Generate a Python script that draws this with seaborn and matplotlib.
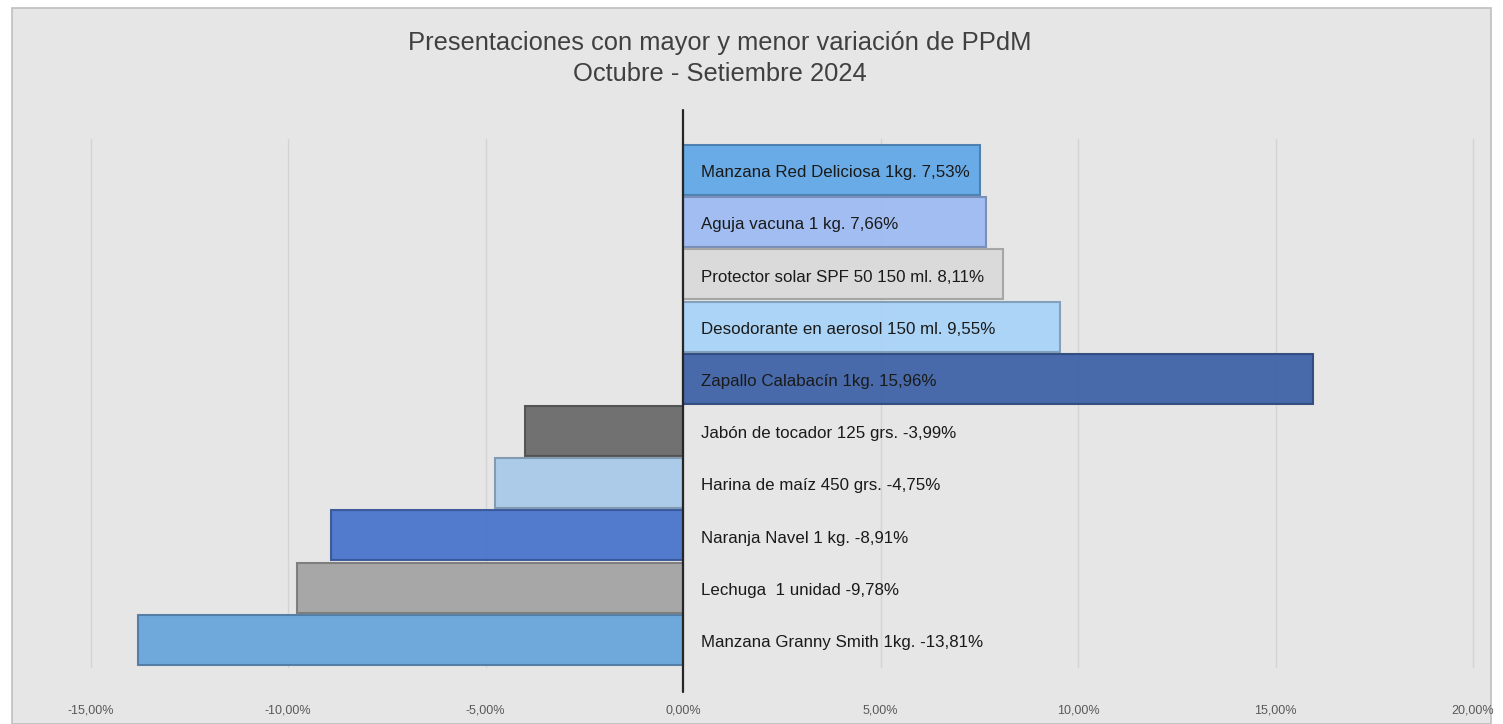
import matplotlib
matplotlib.use("Agg")
import matplotlib.pyplot as plt
import matplotlib.colors as mcolors
from matplotlib.patches import Rectangle
import seaborn as sns
import pandas as pd

categories = [
    "Manzana Red Deliciosa 1kg.",
    "Aguja vacuna 1 kg.",
    "Protector solar SPF 50 150 ml.",
    "Desodorante en aerosol 150 ml.",
    "Zapallo Calabacín 1kg.",
    "Jabón de tocador 125 grs.",
    "Harina de maíz 450 grs.",
    "Naranja Navel 1 kg.",
    "Lechuga  1 unidad",
    "Manzana Granny Smith 1kg.",
]
values = [7.53, 7.66, 8.11, 9.55, 15.96, -3.99, -4.75, -8.91, -9.78, -13.81]
value_labels = ["7,53%", "7,66%", "8,11%", "9,55%", "15,96%",
                "-3,99%", "-4,75%", "-8,91%", "-9,78%", "-13,81%"]
bar_colors = ["#62A8E6", "#9DBBF3", "#DADADA", "#A9D3F7", "#3F63A7",
              "#6B6B6B", "#A8CAEA", "#4A74CC", "#A4A4A4", "#69A5DB"]
tick_values = [-15, -10, -5, 0, 5, 10, 15, 20]
tick_labels = ["-15,00%", "-10,00%", "-5,00%", "0,00%", "5,00%", "10,00%", "15,00%", "20,00%"]
title_lines = ["Presentaciones con mayor y menor variación de PPdM",
               "Octubre - Setiembre 2024"]

df = pd.DataFrame({"cat": categories, "val": values})

sns.set_theme(style="white")
plt.rcParams["font.family"] = ["Liberation Sans", "DejaVu Sans"]

W, H = 1503, 724
fig = plt.figure(figsize=(W / 100, H / 100), dpi=100)
bg = "#E7E6E6"
fig.patch.set_facecolor("white")
fig.add_artist(Rectangle((12 / W, 0), (W - 24) / W, (H - 8) / H, transform=fig.transFigure,
                         facecolor=bg, edgecolor="#BFBFBF", lw=1.2, zorder=0))

x_left_px, x_right_px = 20, 1490
y_top_px, y_bot_px = 110, 668
ax = fig.add_axes([x_left_px / W, 1 - y_bot_px / H, (x_right_px - x_left_px) / W,
                   (y_bot_px - y_top_px) / H])
ax.set_facecolor("none")

sns.barplot(data=df, x="val", y="cat", hue="cat", palette=bar_colors, legend=False,
            orient="h", width=0.96, ax=ax, saturation=1, zorder=3)
for patch, c in zip(ax.patches, bar_colors):
    dark = tuple(v * 0.75 for v in mcolors.to_rgb(c))
    patch.set_edgecolor(dark)
    patch.set_linewidth(1.5)
    patch.set_alpha(0.95)

zero_px, ppu = 683, 39.5
ax.set_xlim(-(zero_px - x_left_px) / ppu, (x_right_px - zero_px) / ppu)
ax.set_ylim(9.54, -1.15)

ax.set_xticks(tick_values)
ax.set_xticklabels(tick_labels, fontsize=9, color="#595959")
ax.tick_params(axis="x", length=0, pad=26)
ax.set_yticks([])
ax.set_ylabel("")
ax.set_xlabel("")
for s in ax.spines.values():
    s.set_visible(False)

for xv in tick_values:
    if xv != 0:
        ax.plot([xv, xv], [9.54, -0.6], color="#D3D3D3", lw=1, zorder=1)
ax.plot([0, 0], [10.0, -1.15], color="#262626", lw=1.6, zorder=5, clip_on=False)

for i, (cat, lab) in enumerate(zip(categories, value_labels)):
    ax.text(0.45, i + 0.05, f"{cat} {lab}", va="center", ha="left", fontsize=12.2,
            color="#1A1A1A", zorder=6)

fig.text(720 / W, 1 - 43 / H, title_lines[0], ha="center", va="center", fontsize=18.4, color="#404040")
fig.text(720 / W, 1 - 74 / H, title_lines[1], ha="center", va="center", fontsize=18.4, color="#404040")

fig.savefig("out.png", dpi=100, facecolor=fig.get_facecolor())
